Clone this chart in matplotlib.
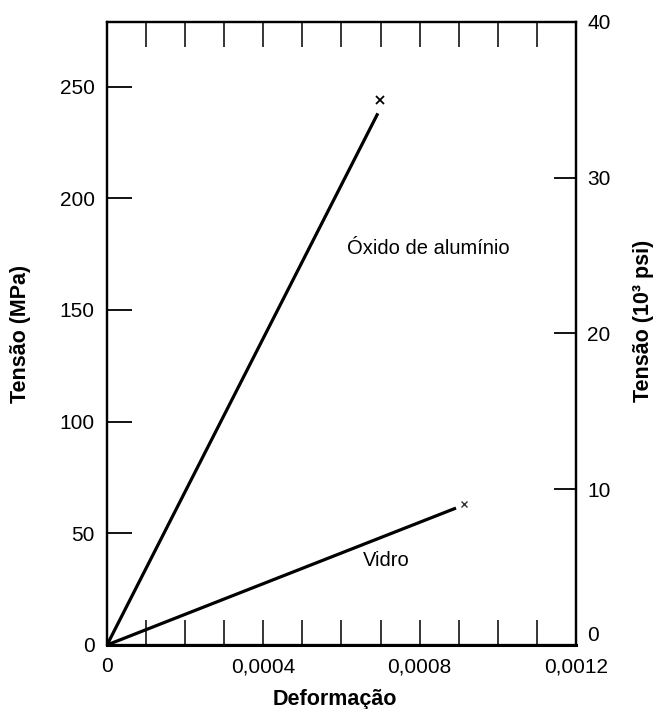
import numpy as np
from matplotlib import pyplot as plt
from matplotlib.ticker import MultipleLocator, FuncFormatter

# data (strain, stress in MPa)
strain_alumina = [0, 0.000693]
stress_alumina = [0, 238]
fracture_alumina = (0.000698, 244)

strain_vidro = [0, 0.000893]
stress_vidro = [0, 61.3]
fracture_vidro = (0.000913, 63)

mpa_ticks = [0, 50, 100, 150, 200, 250]
psi_ticks = [0, 10, 20, 30, 40]

plt.rcParams['font.family'] = ['Liberation Sans', 'DejaVu Sans']
plt.rcParams['font.size'] = 14

fig = plt.figure(figsize=(6.59, 7.09), dpi=100)
ax = fig.add_axes([0.1624, 0.0903, 0.7116, 0.8787])
ax2 = ax.twinx()

ax.plot(strain_alumina, stress_alumina, color='black', lw=2.3, solid_capstyle='butt')
ax.plot(strain_vidro, stress_vidro, color='black', lw=2.3, solid_capstyle='butt')
ax.plot(*fracture_alumina, marker='x', color='black', ms=6, mew=1.3)
ax.plot(*fracture_vidro, marker='x', color='#333333', ms=5, mew=1.0)

ax.text(0.000614, 177.7, 'Óxido de alumínio', va='center', ha='left', fontsize=14.5)
ax.text(0.000655, 38, 'Vidro', va='center', ha='left', fontsize=14.5)

ax.set_xlim(0, 0.0012)
ax.set_ylim(0, 278.9)
ax2.set_ylim(0, 40)

def fmt_strain(v, pos):
    k = int(round(v / 0.0001))
    if k % 4 != 0:
        return ''
    if k == 0:
        return '0'
    return f'{v:.4f}'.replace('.', ',')

ax.xaxis.set_major_locator(MultipleLocator(0.0001))
ax.xaxis.set_major_formatter(FuncFormatter(fmt_strain))
ax.set_yticks(mpa_ticks)
ax2.set_yticks(psi_ticks)

ax.tick_params(axis='x', which='major', direction='in', length=18, width=1.1,
               top=True, bottom=True, pad=9, labelsize=15)
ax.tick_params(axis='y', direction='in', length=18, width=1.3, left=True,
               right=False, pad=9, labelsize=15)
ax2.tick_params(axis='y', direction='in', length=16, width=1.3, left=False,
                right=True, pad=8, labelsize=15)
ax.get_yticklines()[8].set_color('#b0206e')
# right-hand "0" sits a little above the spine in the reference
ax2.get_yticklabels()[0].set_va('bottom')

for a in (ax, ax2):
    for s in a.spines.values():
        s.set_linewidth(1.6)
ax.spines['bottom'].set_linewidth(2.2)

# axis titles placed by hand to sit where the reference has them
ax.text(0.486, -0.087, 'Deformação', transform=ax.transAxes, ha='center',
        va='center', fontweight='bold', fontsize=15.5)
ax.text(-0.1855, 0.5, 'Tensão (MPa)', transform=ax.transAxes, ha='center',
        va='center', rotation=90, fontweight='bold', fontsize=15.5)
ax.text(1.145, 0.52, 'Tensão (10³ psi)', transform=ax.transAxes, ha='center',
        va='center', rotation=90, fontweight='bold', fontsize=15.5)

fig.savefig('out.png', dpi=100)
